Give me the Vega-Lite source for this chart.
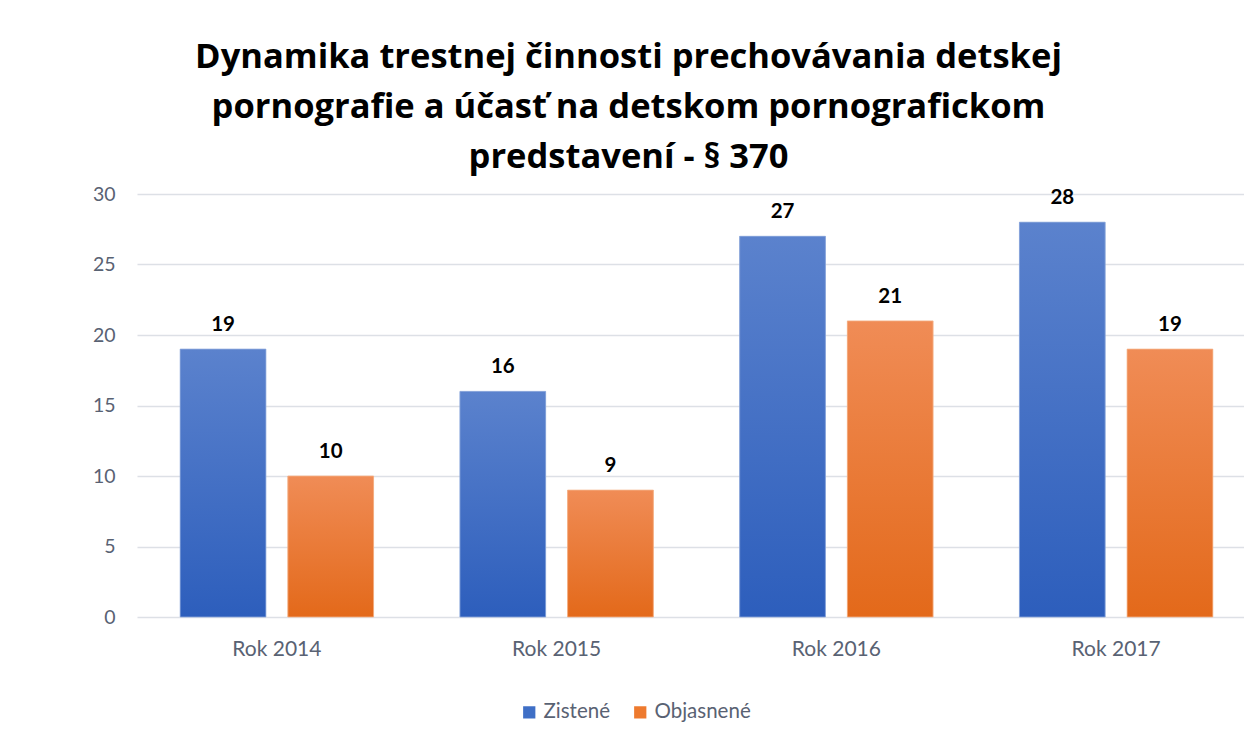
{
  "$schema": "https://vega.github.io/schema/vega-lite/v6.json",
  "autosize": {"type": "none"},
  "padding": {"left": 137, "top": 194, "right": 0, "bottom": 127},
  "width": 1119,
  "height": 423,
  "background": "white",
  "title": {
    "text": ["Dynamika trestnej činnosti prechovávania detskej", "pornografie a účasť na detskom pornografickom", "predstavení - § 370"],
    "font": "Open Sans",
    "fontSize": 34.5,
    "fontWeight": "bold",
    "color": "#000000",
    "lineHeight": 50,
    "anchor": "middle",
    "dx": -68,
    "offset": 9
  },
  "data": {
    "values": [
      {"rok": "Rok 2014", "typ": "Zistené", "pocet": 19},
      {"rok": "Rok 2014", "typ": "Objasnené", "pocet": 10},
      {"rok": "Rok 2015", "typ": "Zistené", "pocet": 16},
      {"rok": "Rok 2015", "typ": "Objasnené", "pocet": 9},
      {"rok": "Rok 2016", "typ": "Zistené", "pocet": 27},
      {"rok": "Rok 2016", "typ": "Objasnené", "pocet": 21},
      {"rok": "Rok 2017", "typ": "Zistené", "pocet": 28},
      {"rok": "Rok 2017", "typ": "Objasnené", "pocet": 19}
    ]
  },
  "encoding": {
    "x": {
      "field": "rok", "type": "nominal",
      "scale": {"paddingInner": 0, "paddingOuter": 0},
      "axis": {"title": null, "labelAngle": 0, "domain": false, "ticks": false, "labelPadding": 21, "labelFont": "Lato", "labelFontSize": 21, "labelColor": "#596273", "grid": false}
    },
    "xOffset": {
      "field": "typ", "type": "nominal",
      "scale": {"domain": ["Zistené", "Objasnené"], "paddingInner": 0.204, "paddingOuter": 0.401}
    },
    "y": {
      "field": "pocet", "type": "quantitative",
      "scale": {"domain": [0, 30], "nice": false},
      "axis": {"title": null, "values": [0, 5, 10, 15, 20, 25, 30], "domain": false, "ticks": false, "labelPadding": 22, "labelFont": "Lato", "labelFontSize": 19.5, "labelColor": "#596273", "gridColor": "#dde0e6", "gridWidth": 1.5}
    }
  },
  "layer": [
    {
      "mark": {"type": "bar"},
      "encoding": {
        "color": {
          "field": "typ", "type": "nominal",
          "scale": {"domain": ["Zistené", "Objasnené"], "range": ["#3f6fc6", "#ee7a2e"]},
          "legend": {
            "title": null, "orient": "none", "direction": "horizontal",
            "legendX": 382, "legendY": 508,
            "symbolType": "square", "symbolSize": 150, "symbolStrokeWidth": 0,
            "labelFont": "Lato", "labelFontSize": 20.5, "labelColor": "#596273",
            "labelOffset": 4, "columnPadding": 20
          }
        }
      }
    },
    {
      "transform": [{"filter": "datum.typ === 'Zistené'"}],
      "mark": {
        "type": "bar",
        "stroke": "#8fa9dc", "strokeWidth": 0.8,
        "color": {"gradient": "linear", "x1": 0, "y1": 0, "x2": 0, "y2": 1,
          "stops": [{"offset": 0, "color": "#5b82cd"}, {"offset": 1, "color": "#2d5ebc"}]}
      },
      "encoding": {}
    },
    {
      "transform": [{"filter": "datum.typ === 'Objasnené'"}],
      "mark": {
        "type": "bar",
        "stroke": "#f5b48a", "strokeWidth": 0.8,
        "color": {"gradient": "linear", "x1": 0, "y1": 0, "x2": 0, "y2": 1,
          "stops": [{"offset": 0, "color": "#f08c56"}, {"offset": 1, "color": "#e3691a"}]}
      },
      "encoding": {}
    },
    {
      "mark": {"type": "text", "baseline": "alphabetic", "dy": -18, "font": "Lato", "fontSize": 20.5, "fontWeight": "bold", "color": "#000000"},
      "encoding": {"text": {"field": "pocet", "type": "quantitative"}}
    }
  ],
  "config": {"view": {"stroke": null}}
}
